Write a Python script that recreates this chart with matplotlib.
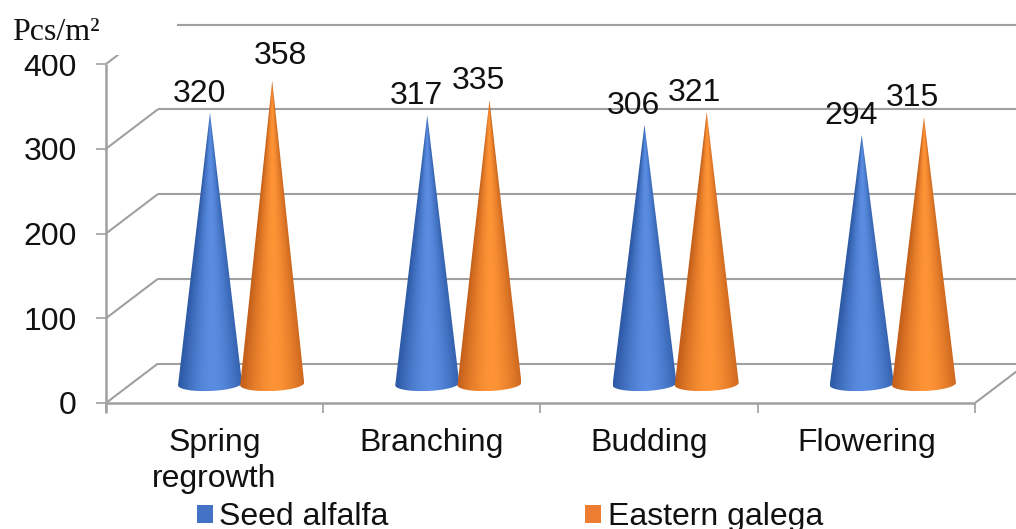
import numpy as np
import matplotlib
matplotlib.use("Agg")
import matplotlib.pyplot as plt
from matplotlib.colors import to_rgb
from matplotlib.patches import Patch, Polygon, Rectangle

categories = ["Spring\nregrowth", "Branching", "Budding", "Flowering"]
seed_alfalfa = [320, 317, 306, 294]
eastern_galega = [358, 335, 321, 315]
y_ticks = [0, 100, 200, 300, 400]
series_names = ["Seed alfalfa", "Eastern galega"]
y_label = "Pcs/m²"

W, H = 1016, 529
CAT_PX = 217.25      # pixels per category
ORIGIN_PX = 214.6    # pixel x of the first category centre
UNIT_PX = 0.8475     # pixels per value unit
ZERO_PX = 403.0      # pixel y of value 0
BASE = 22.4          # cones stand this many value units behind the front floor edge

plt.rcParams["font.family"] = ["Liberation Sans", "DejaVu Sans"]
FS = 23
GREY = "#a0a0a0"
INK = "#111111"

fig = plt.figure(figsize=(W / 100, H / 100), dpi=100)
ax = fig.add_axes([0, 0, 1, 1])
ax.set_xlim(-ORIGIN_PX / CAT_PX, (W - ORIGIN_PX) / CAT_PX)
ax.set_ylim((ZERO_PX - H) / UNIT_PX, ZERO_PX / UNIT_PX)
ax.axis("off")

# Oblique depth of the 3D box
dx = 52 / CAT_PX
dy = 39.5 / UNIT_PX
left = -0.5
right = len(categories) - 0.5
x_end = ax.get_xlim()[1]


def seg(xs, ys, lw=1.5, z=1):
    ax.plot(xs, ys, color=GREY, lw=lw, zorder=z, solid_capstyle="butt")


# Walls and floor
for t in y_ticks:
    seg([left, left + dx], [t, t + dy])
    seg([left + dx, x_end], [t + dy, t + dy])
    seg([left - 10 / CAT_PX, left], [t, t], lw=1.2)
    ax.text(left - 29 / CAT_PX, t, str(t), ha="right", va="center_baseline", fontsize=FS, color=INK)
seg([left, left], [-10 / UNIT_PX, y_ticks[-1]], lw=1.8, z=2)
seg([left, right], [0, 0], lw=1.8, z=2)
seg([right, right + dx], [0, dy])
for i in range(len(categories) + 1):
    seg([left + i, left + i], [0, -10 / UNIT_PX], lw=1.2)

for i, name in enumerate(categories):
    ax.text(i, -25 / UNIT_PX, name, ha="center", va="top", fontsize=FS, color=INK, linespacing=1.24)


def cone(xc, value, centre, edge, z):
    """Shaded cone on the floor whose height above its base is the value."""
    hw = 32 / CAT_PX
    tip = value + BASE
    drop = 7 / UNIT_PX     # depth of the elliptical base
    ys = np.linspace(tip, BASE - drop, 500)
    xs = np.linspace(xc - hw, xc + hw, 160)
    X, Y = np.meshgrid(xs, ys)
    frac = np.clip((tip - Y) / value, 1e-3, 1)
    u = (X - xc) / (hw * frac)
    shade = np.clip(1 - np.abs(u - 0.08) ** 1.6 * 0.95, 0, 1)
    c0, c1 = np.array(to_rgb(edge)), np.array(to_rgb(centre))
    rgb = c0 + (c1 - c0) * shade[..., None]
    im = ax.imshow(rgb, extent=(xs[0], xs[-1], ys[-1], ys[0]), origin="upper",
                   aspect="auto", zorder=z, interpolation="bilinear")
    th = np.linspace(np.pi, 2 * np.pi, 60)
    outline = [(xc, tip)]
    outline += [(xc + hw * np.cos(a), BASE + drop * np.sin(a) + np.cos(a) * 1.5) for a in th]
    clip = Polygon(outline, closed=True, transform=ax.transData, fc="none", ec="none")
    ax.add_patch(clip)
    im.set_clip_path(clip)


BLUE = ("#5a8de2", "#2e5aa6")
ORANGE = ("#ff9436", "#c4601b")
blue_x = -4.6 / CAT_PX
orange_x = 57.6 / CAT_PX

# Value label placement, in pixels: sideways from the cone axis, and above its tip
alfalfa_nudge = [(-11, 11), (-11, 11), (-11, 11), (-11, 11)]
galega_nudge = [(8, 17), (-11, 11), (-12, 11), (-12, 11)]

for i, (a, b) in enumerate(zip(seed_alfalfa, eastern_galega)):
    cone(i + blue_x, a, *BLUE, z=3)
    cone(i + orange_x, b, *ORANGE, z=4)
    ax.text(i + blue_x + alfalfa_nudge[i][0] / CAT_PX, a + BASE + alfalfa_nudge[i][1] / UNIT_PX, str(a),
            ha="center", va="baseline", fontsize=FS, color=INK, zorder=6)
    ax.text(i + orange_x + galega_nudge[i][0] / CAT_PX, b + BASE + galega_nudge[i][1] / UNIT_PX, str(b),
            ha="center", va="baseline", fontsize=FS, color=INK, zorder=6)

# Blank strip behind the unit caption, which sits over the top of the scale
ax.add_patch(Rectangle((0, 1 - 55 / H), 177 / W, 55 / H, transform=ax.transAxes,
                       fc="white", ec="none", zorder=8))
ax.text(12 / W, 1 - 40 / H, y_label, transform=ax.transAxes, family=["Liberation Serif"],
        fontsize=23, color=INK, ha="left", va="baseline", zorder=9)

handles = [Patch(fc="#4472c4", ec="none"), Patch(fc="#ed7d31", ec="none")]
ax.legend(handles, series_names, ncols=2, frameon=False, fontsize=FS,
          loc="lower left", bbox_to_anchor=(197 / W, -3 / H), bbox_transform=ax.transAxes,
          borderpad=0, borderaxespad=0, handlelength=0.5, handleheight=0.5,
          handletextpad=0.2, columnspacing=6.15, labelcolor=INK)

fig.savefig("out.png", dpi=100, facecolor="white")
